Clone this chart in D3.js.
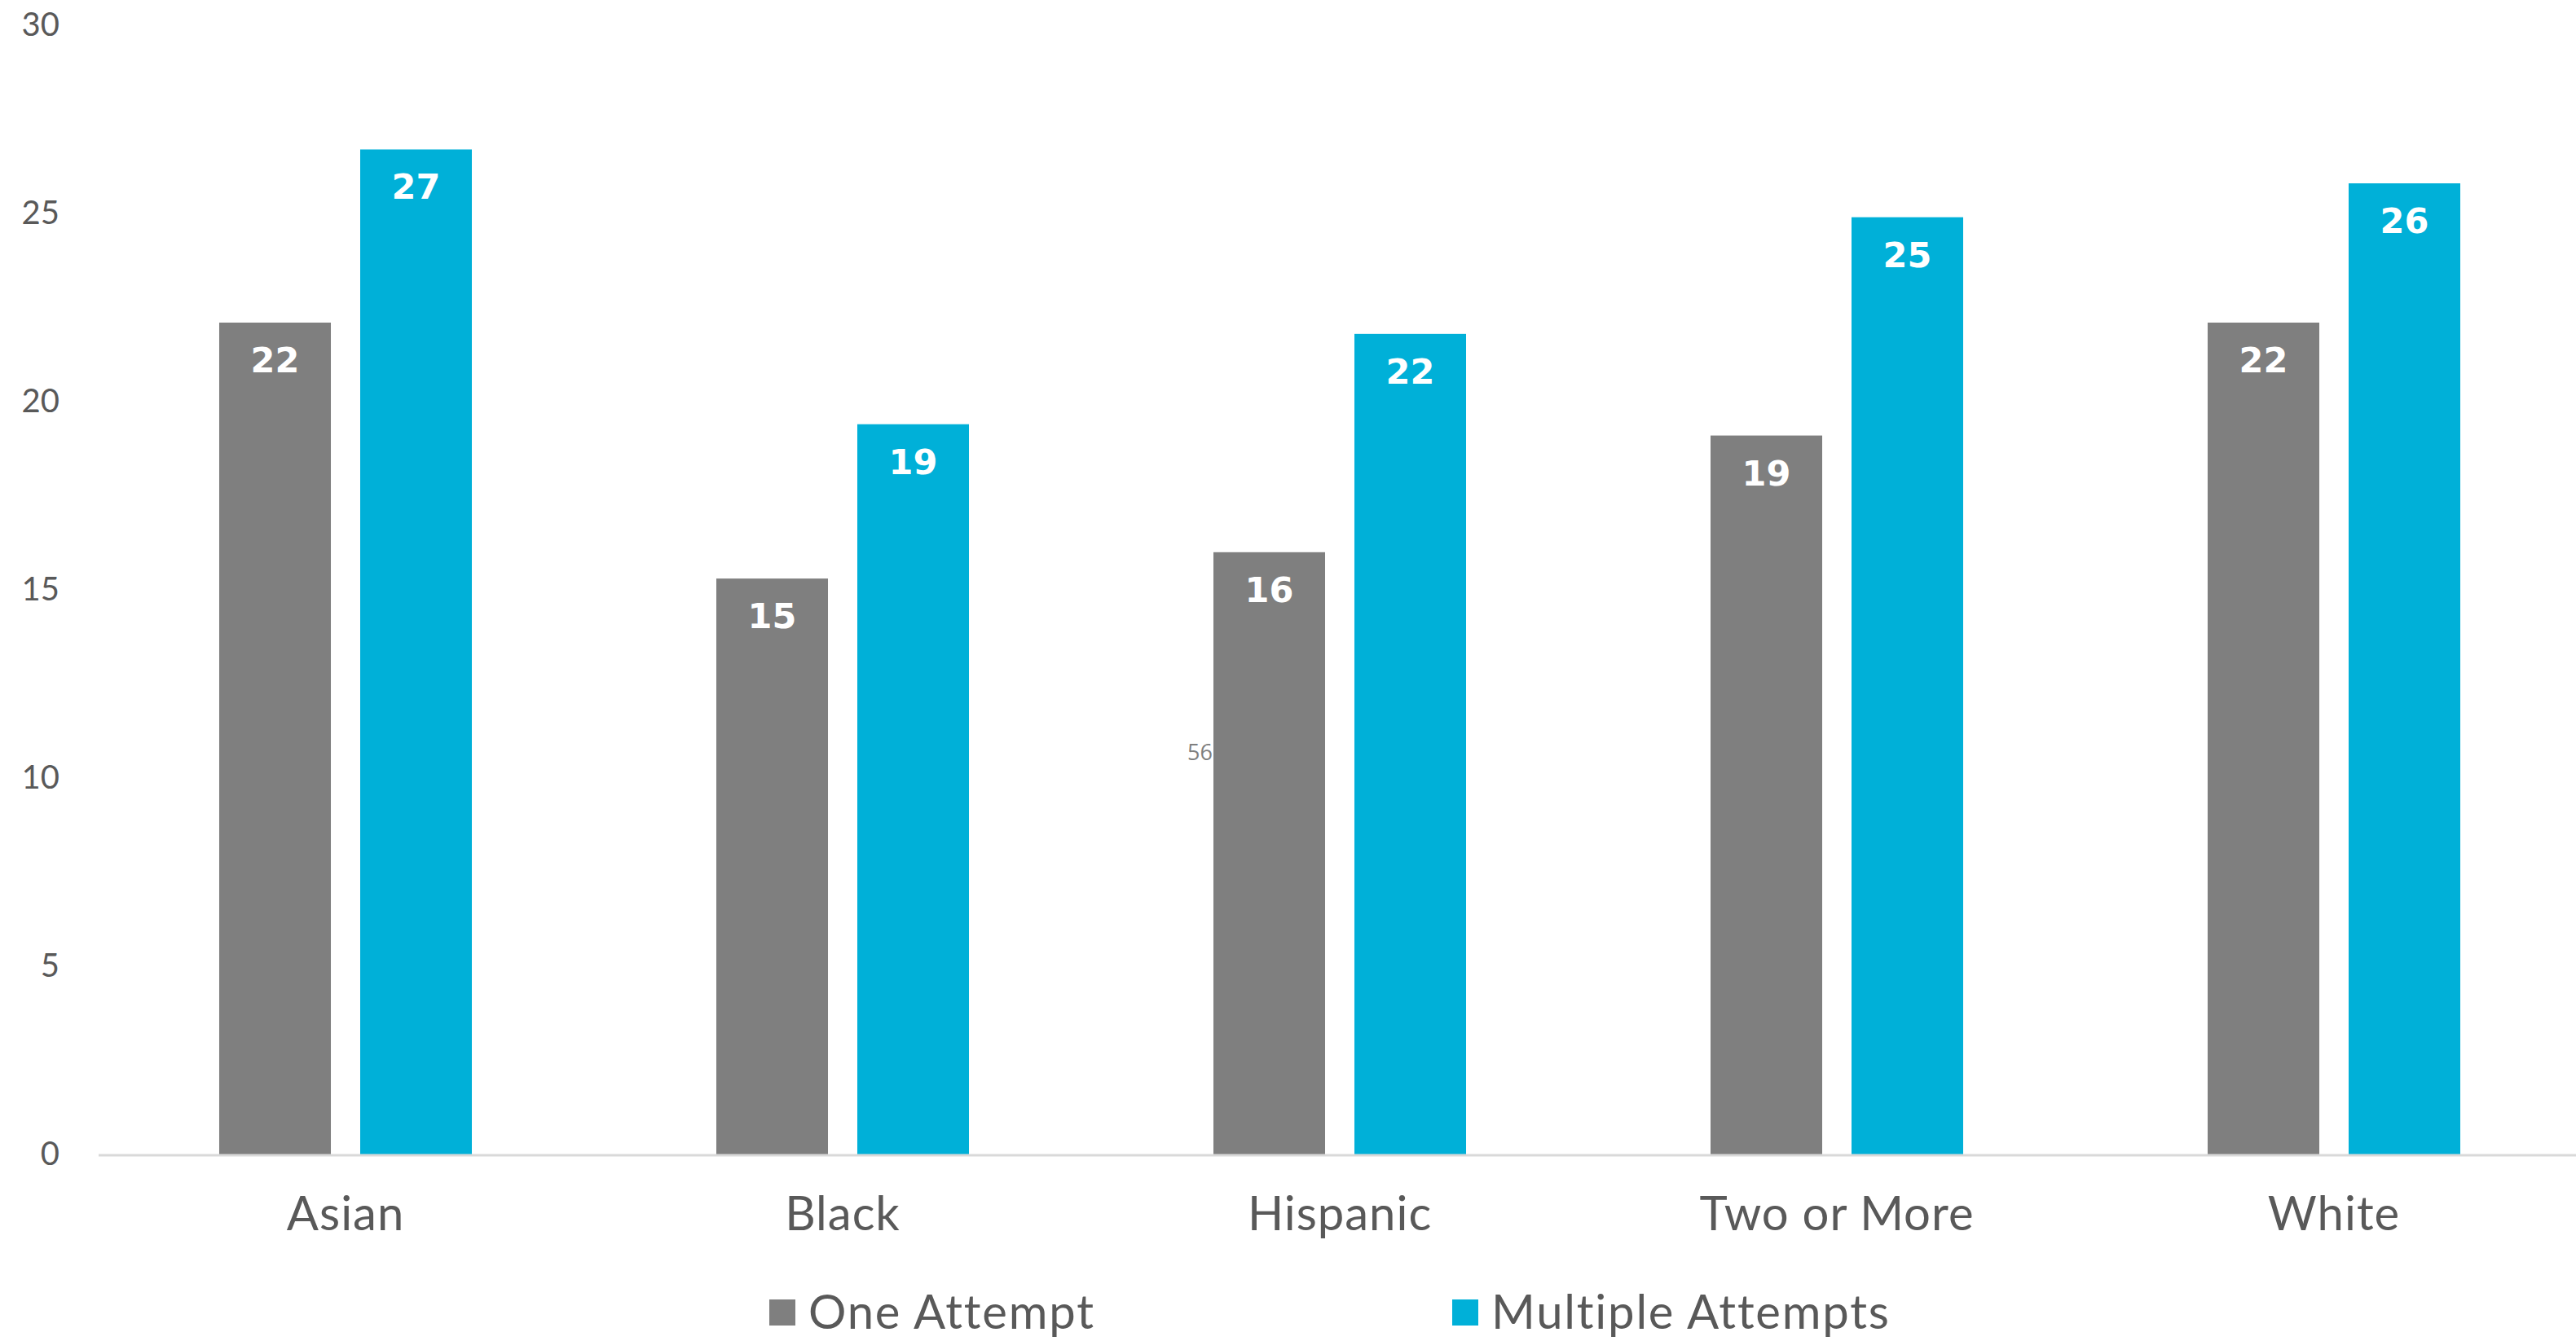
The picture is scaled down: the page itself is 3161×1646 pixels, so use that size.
<!DOCTYPE html>
<html>
<head>
<meta charset="utf-8">
<script src="https://cdn.jsdelivr.net/npm/d3@7"></script>
<style>
  html, body { margin: 0; padding: 0; background: #ffffff; }
  svg { display: block; }
</style>
</head>
<body>
<svg id="chart" width="3161" height="1646"></svg>
<script>
// Categories and series
const categories = ["Asian", "Black", "Hispanic", "Two or More", "White"];
const seriesNames = ["One Attempt", "Multiple Attempts"];
const oneAttempt = [22.1, 15.3, 16.0, 19.1, 22.1];
const multipleAttempts = [26.7, 19.4, 21.8, 24.9, 25.8];
const yTicks = [0, 5, 10, 15, 20, 25, 30];
const pageNote = "56";

const colors = { "One Attempt": "#7f7f7f", "Multiple Attempts": "#00b0d8" };

const rows = categories.map((c, i) => ({
  category: c,
  values: [
    { series: seriesNames[0], value: oneAttempt[i] },
    { series: seriesNames[1], value: multipleAttempts[i] }
  ]
}));

const svg = d3.select("#chart");
const labelFont = "Lato, 'Open Sans', sans-serif";

const x0 = d3.scaleBand().domain(categories).range([119, 3169]).paddingInner(0).paddingOuter(0);
const x1 = d3.scaleBand().domain(seriesNames).range([0, x0.bandwidth()])
  .paddingInner(0.208).paddingOuter(0.867);
const y = d3.scaleLinear().domain([0, 30]).range([1417, 31]);

// Y axis labels (no line, no ticks)
const yAxis = svg.append("g")
  .attr("transform", "translate(73,0)")
  .call(d3.axisLeft(y).tickValues(yTicks).tickSize(0).tickPadding(0));
yAxis.select(".domain").remove();
yAxis.selectAll("text")
  .attr("fill", "#595959")
  .style("font-family", labelFont)
  .style("font-size", "40px");

// Bars
const groups = svg.append("g").selectAll("g")
  .data(rows).join("g")
  .attr("transform", d => `translate(${x0(d.category)},0)`);

groups.selectAll("rect")
  .data(d => d.values).join("rect")
  .attr("x", d => x1(d.series))
  .attr("y", d => y(d.value))
  .attr("width", x1.bandwidth())
  .attr("height", d => y(0) - y(d.value))
  .attr("fill", d => colors[d.series]);

// Value labels inside bar tops
groups.selectAll("text.value")
  .data(d => d.values).join("text")
  .attr("class", "value")
  .attr("x", d => x1(d.series) + x1.bandwidth() / 2)
  .attr("y", d => y(d.value) + 61)
  .attr("text-anchor", "middle")
  .attr("fill", "#ffffff")
  .style("font-family", "'DejaVu Sans', sans-serif")
  .style("font-weight", "bold")
  .style("font-size", "43px")
  .text(d => d3.format(".0f")(d.value));

// X axis line and category labels
const xAxis = svg.append("g")
  .attr("transform", `translate(0,${y(0)})`)
  .call(d3.axisBottom(x0).tickSize(0).tickPadding(0));
xAxis.select(".domain").remove();
xAxis.selectAll("text")
  .attr("dy", null)
  .attr("y", 93)
  .attr("fill", "#595959")
  .style("font-family", labelFont)
  .style("font-size", "58px")
  .style("letter-spacing", "1px");

svg.append("line")
  .attr("x1", 121).attr("x2", 3161)
  .attr("y1", y(0) + 1).attr("y2", y(0) + 1)
  .attr("stroke", "#d9d9d9")
  .attr("stroke-width", 3);

// Legend
const legendPos = [944, 1782];
const legend = svg.append("g").selectAll("g")
  .data(seriesNames).join("g")
  .attr("transform", (d, i) => `translate(${legendPos[i]},1595)`);
legend.append("rect")
  .attr("width", 32).attr("height", 32)
  .attr("fill", d => colors[d]);
legend.append("text")
  .attr("x", 48).attr("y", 36)
  .attr("fill", "#595959")
  .style("font-family", labelFont)
  .style("font-size", "58px")
  .style("letter-spacing", "1.8px")
  .text(d => d);

// Small stray note beside the Hispanic bar
svg.append("text")
  .attr("x", 1488).attr("y", 933)
  .attr("text-anchor", "end")
  .attr("fill", "#7f7f7f")
  .style("font-family", "'Open Sans', sans-serif")
  .style("font-size", "27px")
  .text(pageNote);
</script>
</body>
</html>
